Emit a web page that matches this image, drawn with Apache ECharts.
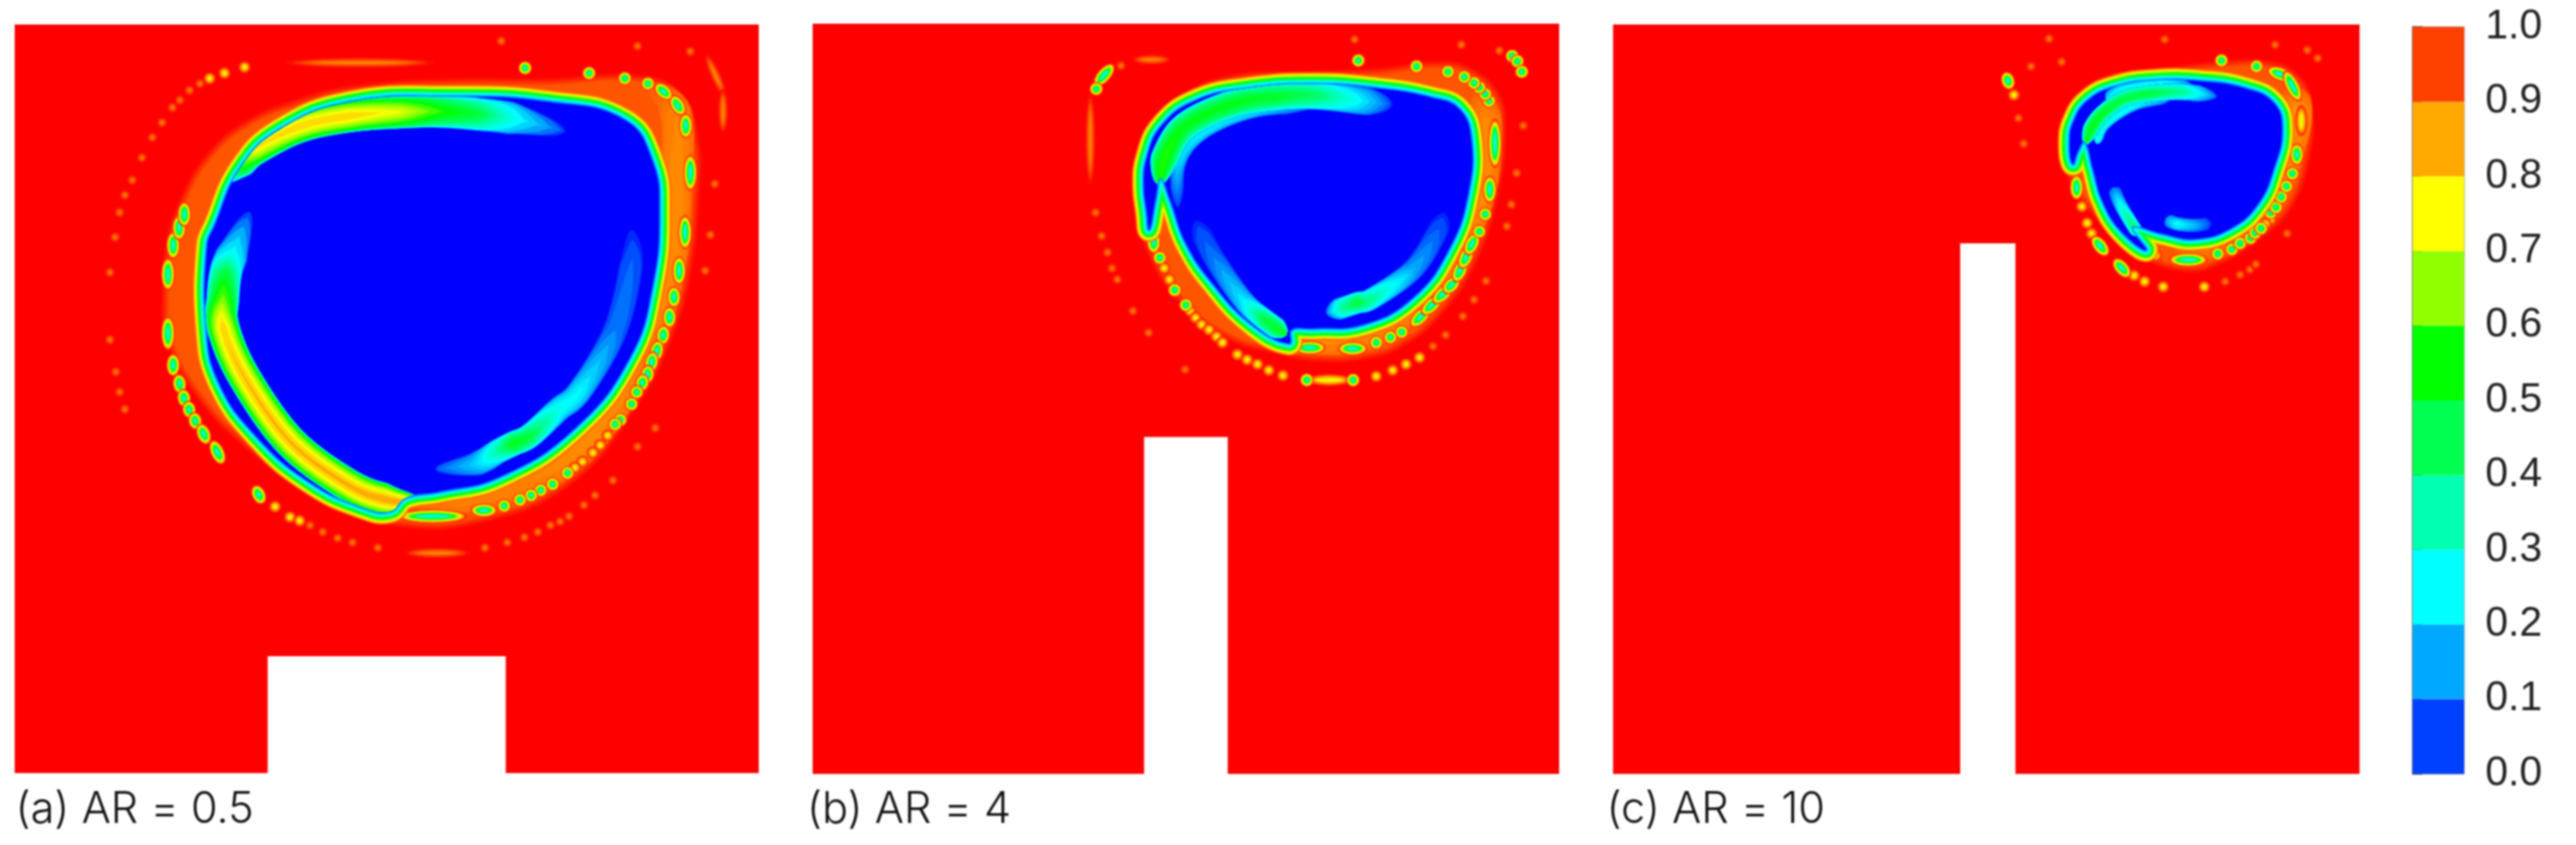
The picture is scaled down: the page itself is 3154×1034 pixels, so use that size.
<!DOCTYPE html>
<html>
<head>
<meta charset="utf-8">
<script src="https://cdn.jsdelivr.net/npm/echarts@6/dist/echarts.min.js"></script>
<style>
  html,body{margin:0;padding:0;background:#fff;}
  #main{width:3154px;height:1034px;filter:blur(0.8px);}
</style>
</head>
<body>
<div id="main"></div>
<script>
// colour bar
var binLows = [0,0.1,0.2,0.3,0.4,0.5,0.6,0.7,0.8,0.9];
var binColors = ['#0040ff','#00a8ff','#00ffff','#00ffb0','#00ff50','#00ff00','#90ff00','#ffff00','#ffa800','#ff4000'];
var titles = ['(a) AR = 0.5','(b) AR = 4','(c) AR = 10'];

// all curves below are in cavity units: x 0-100 left to right, y 0-100 top to bottom
// obstacle: x0,x1,y0,y1
var obstacleA = [34,66,84.4,100];
var obstacleB = [44.4,55.6,55.1,100];
var obstacleC = [46.5,53.9,29.2,100];

// ---- AR = 0.5
var bandA = [[20.7,36.9],[21.2,29.4],[23,23.8],[26.6,17.8],[31.6,13.6],[38.3,10.8],[45.1,9.1],[58.5,8.1],[72,8.1],[83.4,7.6],[88.8,9.6],[91.1,15.8],[91.1,22.8],[90.2,31.9],[87.8,40.9],[82.7,50.9],[74,60.9],[62.5,65.7],[51.8,66.2],[41.7,62.9],[31.6,55.9],[24.9,48.9],[21.2,41.9]];
// x,y,value along the line
var orangeA = [[84.7,7.8,0.93],[88.8,11.8,0.88],[88.8,21.8,0.87],[88.1,31.9,0.87],[84.7,43.4,0.88],[77.3,55.4,0.87],[69.3,60.9,0.88],[60,63.2,0.88],[53,63.9,0.9]];
var coreA = [[25.9,29.5],[25.8,40.4],[27.4,47.7],[32.5,55],[39.8,61.2],[47.1,64.6],[50.5,65],[52.5,63.2],[57,62.4],[65.2,60.4],[75.3,53.9],[82.7,44.4],[85.7,34.9],[86.6,24.8],[85.7,18.3],[82,12.8],[72,10.4],[58.5,9.7],[45.1,10.4],[35.6,14.1],[30.3,19.3],[26.9,26.9]];
var tonguesA = [
  [[26.9,21.3,0.3],[30,18.6,0.65],[32.3,16.6,0.8],[38.3,13.6,0.84],[45.1,12.2,0.84],[51.8,11.7,0.76],[57.2,11.6,0.6],[62.5,12,0.5],[67.2,12.6,0.3],[74,14.3,0.06]],
  [[31.6,25,0.06],[29.3,30.5,0.3],[28.4,33,0.5],[28,36.4,0.65],[28,40.4,0.84],[30.8,47,0.86],[37,55.7,0.87],[44.8,61.5,0.88],[50,63.5,0.9],[55,64,0.9]],
  [[56.5,59.4,0.08],[61.9,58.7,0.22],[65,57,0.4],[67,56,0.55],[69.3,54.9,0.5],[73,51.5,0.3],[76,48.9,0.27],[80.7,40.9,0.13],[82.9,31.9,0.1],[82.9,27.4,0.04]]
];
var strongA = [[20.6,32.1,20.6,34.6],[20.6,39.9,20.6,42.6],[21.3,28.6,21.3,30.4],[21.3,44.9,21.3,46.1],[22.1,26.4,22.1,27.9],[22.1,47.6,22.2,48.4],[22.8,24.6,22.8,26.1],[22.7,49.6,22.8,50.2],[23.4,51.2,23.5,51.7],[24.2,52.7,24.3,53.2],[25.2,54.2,25.6,55.2],[26.9,56.4,27.6,57.9],[32.6,62.4,33,63.2],[90.1,26.4,90.1,29.1],[89.3,31.9,89.3,33.9],[88.6,35.9,88.6,36.9],[88,38.6,88,39.6],[87.2,41.1,87.1,41.9],[86.4,43.1,86.2,44.1],[85.7,44.6,85.5,45.6],[85.1,46.4,85,47.1],[84.4,47.6,84.3,48.1],[83.6,49.1],[82.9,50.7],[81.4,52.8],[80.7,53.4],[74.3,59.9],[72.3,61.4],[70.7,62.2],[69.4,62.9],[67.9,63.5],[65.8,64.3],[62.2,64.9,63.9,64.9],[52.5,65.7,59.9,65.7],[90.8,18.3,90.8,21.3],[90.2,12.8,90.2,14.3],[88.8,10.3,89.4,11.3],[86.8,8.6,87.6,9.3],[85.1,7.9],[82,7.2],[77.2,6.5],[68.6,5.8]];
var midA = [[79.7,54.9],[78.7,56.2],[77.7,57.2],[76.3,58.4],[75.3,59.2],[37,65.8],[35,64.4],[30.9,5.7],[28.2,6.5],[26.2,7.2],[38.3,66.3]];
var weakA = [[37,5.1,55.8,5.1],[24.9,7.9],[23.5,8.8],[22.2,10.1],[21.2,11.1],[19.8,13.1],[18.5,15.1],[17.1,17.8],[15.8,20.8],[14.8,22.8],[14.1,25.1],[13.5,28.4],[12.8,33.1],[12.8,42.1],[13.6,46.4],[14.1,49.1],[14.8,51.4],[83.7,2.9],[90.8,3.6],[93.2,4.6,95.2,9],[95.2,9.3,95.2,13.8],[65.4,2.2],[94.1,21.3],[93.5,28.1],[92.8,32.9],[39.7,66.9],[41.4,67.8],[43.4,68.6],[45.4,69.2],[48.8,69.9],[53.1,70.6,60.5,70.6],[63.2,69.9],[66.2,69.2],[68.5,68.5],[70.3,67.8],[72,66.9],[73.3,66.4],[74.5,65.7],[76.5,64.2],[78,62.9],[80.4,60.9],[83.7,56.4],[86.1,53.9]];

// ---- AR = 4
var bandB = [[44.2,20.5],[45.5,14.6],[49.1,10.7],[56.2,7.7],[66.9,7.2],[75.9,6.8],[84,5.9],[88,6.8],[91.1,9.6],[92,13.6],[91.1,22.3],[88,31.7],[83.5,38.3],[78.6,42.3],[73.7,43.9],[67,44.1],[62.5,43.2],[56.2,41.4],[50,36.8],[45.5,29.9],[44.6,24.5]];
var orangeB = [[88.9,8.5,0.92],[90.2,13.6,0.87],[89.3,22.6,0.87],[85.7,30.6,0.87],[80.4,37.5,0.87],[73.7,41.5,0.88],[66,41.9,0.87],[60,41,0.9]];
var coreB = [[46.6,20.5],[48,23.7],[50,29.2],[53.6,34.6],[58.9,40.1],[63.8,42.6],[64.1,40.8],[67,40.6],[73.7,40.1],[80.4,36.5],[85.3,29.9],[87.8,22.6],[88.2,15.4],[86.6,11.4],[83,9.9],[75.9,8.7],[66.9,8.1],[58,8.7],[51.3,10.3],[46.8,13.6],[44.8,17.9],[44.4,21.6],[44.8,25.2],[45.1,27.4],[45.9,23.4]];
var tonguesB = [
  [[48.9,24.5,0.05],[49.1,18.6,0.22],[52.2,14.6,0.25],[58.9,11.7,0.25],[67,11,0.1]],
  [[46.4,21.5,0.6],[47.3,17.6,0.6],[50,13.6,0.55],[56.2,10.7,0.55],[62.5,9.7,0.52],[67.8,9.6,0.45],[73.7,10.3,0.25],[77.7,10.8,0.05]],
  [[51.3,26.3,0.05],[53.6,31,0.12],[57.6,36.8,0.25],[60.5,39.4,0.5],[63.5,41.5,0.55]],
  [[68.8,38.6,0.1],[70.9,37.9,0.4],[73,37.2,0.5],[75,36.6,0.4],[80.4,32.8,0.18],[83.5,28.1,0.1],[84.6,25.2,0.04]]
];
var strongB = [[39.7,6.1,38.4,7.6],[38,8.7],[45.7,28.5,45.7,29.7],[46.5,31.2],[48.5,35.5],[50,37.5],[65.4,43.2,67.8,43.2],[71.3,43.3,73.4,43.3],[75.5,42.5],[77.4,41.8],[78.9,41.1],[80.8,39.7,82,38.5],[82.3,38.1,83.5,37],[83.8,36.6,85,35.5],[85.2,35.2,85.9,34.5],[86.4,33.6,87,32.3],[87.2,31.8,87.8,30.5],[88,30,88.6,28.8],[89.3,27.7],[90.1,25.4],[90.7,21.2,90.7,23],[91.4,13.6,91.4,18.3],[90.6,10.3],[90.1,9.4],[89.3,8.5],[88.6,7.9],[87.3,7.1],[85.1,6.4],[80.9,5.7],[73.1,4.9],[93.7,4.3],[94.4,5],[95,6.4],[66.2,47.5],[72.4,47.5]];
var midB = [[47.1,32.6],[47.8,34.1],[50.6,38.3],[51.3,39.2],[52.1,40.1],[53.1,40.8],[54.1,41.7],[54.9,42.5],[56.9,44.1],[58.2,44.8],[59.6,45.4],[61.1,46.2],[63,46.9],[67,47.5,71.4,47.5],[75.5,47],[77.7,46.2],[79.5,45.4],[81.3,44.5]];
var weakB = [[72.6,2.1],[86.9,2.8],[92,3.6],[43.5,4.8,47.3,4.8],[41.3,5.6],[37.2,9.9,37.2,20.8],[95.2,13.6],[94.3,19.9],[93.6,24.1],[93,27],[37.9,25.2],[38.7,28.3],[39.5,30.5],[40.1,32.6],[40.8,34.1],[42.9,38.3],[45,41.2],[49.9,46.1],[83.1,43],[84.8,41.5],[87.1,39],[88.6,36.8],[90.2,34.3]];

// ---- AR = 10
var bandC = [[60.8,17],[61.5,12.3],[63.7,9.2],[67.4,7.4],[73.6,6.7],[80.1,5.9],[87.5,5.7],[91.5,7.6],[92.9,11.6],[92.6,17],[90.4,23.6],[86.3,27.9],[80.1,31.6],[76.5,32.1],[72.1,30.8],[68.1,27.9],[64.4,24.3],[61.9,20.6]];
var orangeC = [[90.7,8.3,0.92],[91.5,11.6,0.86],[90.7,15.9,0.87],[87.5,23.6,0.87],[82,28.6,0.88],[74.7,29.4,0.9]];
var coreC = [[63.2,15.6],[64.3,19.2],[65.6,23.6],[68.1,27.6],[71.4,30.1],[69.5,27],[73.6,27.9],[77.9,28.6],[82.7,27.2],[86.4,23.9],[88.5,19.2],[89.6,14.1],[88.5,10.5],[84.5,8.5],[78.7,7.6],[72.8,7.5],[67.4,8.3],[63.7,10.1],[61.7,13],[61.2,15.9],[61.6,18.6],[62.2,17]];
var tonguesC = [
  [[64.8,15.9,0.3],[65.9,13.4,0.3],[69.9,10.8,0.28],[74.7,9.9,0.15]],
  [[66,10,0.2],[68.4,8.8,0.3],[73.6,8.1,0.32],[77.6,8.3,0.15]],
  [[63.2,16,0.55],[64.8,12.7,0.55],[68.1,10.1,0.5],[72.1,9.2,0.5],[76.5,9,0.4],[80.9,9.6,0.08]],
  [[67,21.7,0.1],[68.1,24.3,0.3],[70.5,28.2,0.55]],
  [[74,25.9,0.12],[75.5,26.6,0.28],[78,26.8,0.18],[80.1,26.5,0.05]]
];
var strongC = [[52.8,7.2,53,7.8],[62.1,21,62.1,22.5],[64.8,29,65.7,30.1],[67.7,32,68.6,33],[75.4,31.4,78.7,31.4],[81,30.6],[82.9,30],[84,29.2],[85.4,28.5],[86,27.8],[86.8,27.2],[88.1,25.1],[88.8,24.4],[89.5,23],[90.2,21.6],[91,19.9],[91.6,16.8,91.6,17.9],[88.5,6.3,90.4,7],[90.4,7,91.6,9.4],[86.2,5.6],[81.5,4.8]];
var midC = [[92.2,11.6,92.2,14.1],[53.7,9.4],[63.5,26.5],[64.1,27.9],[62.8,24.3],[69.8,33.5],[71.2,34.3],[73.7,35],[72.7,30.8],[79.2,35],[88.1,26],[87.4,26.6]];
var weakC = [[73.9,2],[88.7,2.7],[93,3.4],[94.4,4.5],[60.1,5],[56,5.6],[54.3,12.5],[55,15.9],[58.4,1.9],[82,34.3],[84,33.4],[85.3,32.7],[86.1,32],[90.3,27.9]];

// ---- drawing, widths are in screen px
var tongueWidthsA = [20,20,15];
var tongueWidthsB = [8,17,13,13];
var tongueWidthsC = [6,8,10,8,8];

var grids = [
  {left:18,top:30,width:911,height:916},
  {left:995,top:29,width:914,height:918},
  {left:1975,top:30,width:914,height:917}
];

function hex2rgb(h){
  return [parseInt(h.substr(1,2),16),parseInt(h.substr(3,2),16),parseInt(h.substr(5,2),16)];
}
// continuous rainbow through the colour bar bins
var stops = [[0,'#0000ff']];
binLows.forEach(function(v,i){stops.push([v+0.05,binColors[i]]);});
stops.push([1,'#ff0000']);
function ramp(v){
  v = Math.max(0,Math.min(1,v));
  for(var i=1;i<stops.length;i++){
    if(v<=stops[i][0]){
      var t=(v-stops[i-1][0])/(stops[i][0]-stops[i-1][0]);
      var a=hex2rgb(stops[i-1][1]),b=hex2rgb(stops[i][1]);
      return 'rgb('+Math.round(a[0]+(b[0]-a[0])*t)+','+Math.round(a[1]+(b[1]-a[1])*t)+','+Math.round(a[2]+(b[2]-a[2])*t)+')';
    }
  }
  return '#ff0000';
}

function filled(layers,pts,from,to,width,n,fillV){
  for(var i=0;i<n;i++){
    var t=i/(n-1);
    layers.push({kind:'rim',pts:pts,color:ramp(from+(to-from)*t),width:Math.max(1.5,width*(1-t*0.9))});
  }
  layers.push({kind:'fill',pts:pts,color:ramp(fillV)});
}
function islands(layers,list,base,peak,width,n){
  list.forEach(function(s){
    var pts = s.length==2 ? [[s[0],s[1]],[s[0],s[1]]] : [[s[0],s[1]],[s[2],s[3]]];
    for(var i=0;i<n;i++){
      var t=i/(n-1);
      layers.push({kind:'island',pts:pts,color:ramp(base+(peak-base)*t),ry:width/2*(1-t*0.85),shrink:1-t*0.45});
    }
  });
}
// a tongue: layered ribbons, one per value level, narrowing where the value along the line falls
function ribbon(layers,pts,base,width,n,clip){
  var top=base;
  pts.forEach(function(p){ if(Math.abs(p[2]-base)>Math.abs(top-base)) top=p[2]; });
  for(var i=1;i<=n;i++){
    var level=base+(top-base)*i/(n+1);
    layers.push({kind:'ribbon',pts:pts,base:base,level:level,width:width,color:ramp(level),clip:clip});
  }
}

function buildPanel(band,orange,core,tongues,widths,strong,mid,weak){
  var layers=[];
  islands(layers,weak,0.99,0.88,13,5);
  filled(layers,band,0.99,0.94,18,5,0.93);
  ribbon(layers,orange,0.93,20,5,null);
  islands(layers,mid,0.97,0.72,15,6);
  islands(layers,strong,0.97,0.27,17,9);
  filled(layers,core,0.92,0.1,30,12,0);
  tongues.forEach(function(t,i){
    ribbon(layers,t,0,widths[i],16,core);
  });
  return layers;
}

// sample a line through the points, carrying the third column along
function sampleLine(p,vals){
  var out=[],sub=10;
  for(var i=0;i<p.length-1;i++){
    var p0=p[Math.max(0,i-1)],p1=p[i],p2=p[i+1],p3=p[Math.min(p.length-1,i+2)];
    for(var j=0;j<sub;j++){
      var t=j/sub,t2=t*t,t3=t2*t;
      out.push([
        0.5*(2*p1[0]+(p2[0]-p0[0])*t+(2*p0[0]-5*p1[0]+4*p2[0]-p3[0])*t2+(3*p1[0]-p0[0]-3*p2[0]+p3[0])*t3),
        0.5*(2*p1[1]+(p2[1]-p0[1])*t+(2*p0[1]-5*p1[1]+4*p2[1]-p3[1])*t2+(3*p1[1]-p0[1]-3*p2[1]+p3[1])*t3),
        vals[i]+(vals[i+1]-vals[i])*t
      ]);
    }
  }
  var n=p.length-1;
  out.push([p[n][0],p[n][1],vals[n]]);
  return out;
}
function ribbonPoints(l,api){
  var scr=l.pts.map(function(q){return api.coord([q[0],q[1]]);});
  var line=sampleLine(scr,l.pts.map(function(q){return q[2];}));
  var left=[],right=[],last=line.length-1;
  line.forEach(function(s,i){
    var a=line[Math.max(0,i-1)],b=line[Math.min(last,i+1)];
    var dx=b[0]-a[0],dy=b[1]-a[1],d=Math.sqrt(dx*dx+dy*dy)||1;
    var t=(l.level-l.base)/(s[2]-l.base);
    var taper=Math.pow(Math.min(1,i/last/0.12,(last-i)/last/0.12),0.6);
    var h=(t<0||t>1)?0:l.width*taper*(1-Math.pow(t,4));
    left.push([s[0]-dy/d*h,s[1]+dx/d*h]);
    right.push([s[0]+dy/d*h,s[1]-dx/d*h]);
  });
  return left.concat(right.reverse());
}

var panels = [
  {layers:buildPanel(bandA,orangeA,coreA,tonguesA,tongueWidthsA,strongA,midA,weakA),obstacle:obstacleA},
  {layers:buildPanel(bandB,orangeB,coreB,tonguesB,tongueWidthsB,strongB,midB,weakB),obstacle:obstacleB},
  {layers:buildPanel(bandC,orangeC,coreC,tonguesC,tongueWidthsC,strongC,midC,weakC),obstacle:obstacleC}
];

var series=[],gridOpt=[],xAxes=[],yAxes=[];
panels.forEach(function(p,k){
  gridOpt.push({left:grids[k].left,top:grids[k].top,width:grids[k].width,height:grids[k].height,show:true,backgroundColor:'#ff0000',borderWidth:0});
  xAxes.push({gridIndex:k,type:'value',min:0,max:100,show:false});
  yAxes.push({gridIndex:k,type:'value',min:0,max:100,inverse:true,show:false});
  series.push({
    type:'custom',coordinateSystem:'cartesian2d',xAxisIndex:k,yAxisIndex:k,silent:true,clip:true,
    data:p.layers.map(function(l){return [l.pts[0][0],l.pts[0][1]];}),
    renderItem:function(params,api){
      var l=p.layers[params.dataIndex];
      var points=l.pts.map(function(q){return api.coord([q[0],q[1]]);});
      if(l.kind=='island'){
        var dx=points[1][0]-points[0][0],dy=points[1][1]-points[0][1];
        var half=Math.sqrt(dx*dx+dy*dy)/2;
        return {type:'ellipse',x:(points[0][0]+points[1][0])/2,y:(points[0][1]+points[1][1])/2,rotation:-Math.atan2(dy,dx),
          shape:{cx:0,cy:0,rx:l.ry+half*l.shrink,ry:l.ry},style:{fill:l.color}};
      }
      if(l.kind=='ribbon'){
        var el={type:'polygon',shape:{points:ribbonPoints(l,api)},style:{fill:l.color}};
        if(l.clip){
          el.clipPath={type:'polygon',shape:{points:l.clip.map(function(q){return api.coord(q);}),smooth:0.45}};
        }
        return el;
      }
      if(l.kind=='fill'){
        return {type:'polygon',shape:{points:points,smooth:0.45},style:{fill:l.color}};
      }
      return {type:'polygon',shape:{points:points,smooth:0.45},style:{fill:null,stroke:l.color,lineWidth:l.width,lineJoin:'round'}};
    }
  });
  series.push({
    type:'custom',coordinateSystem:'cartesian2d',xAxisIndex:k,yAxisIndex:k,silent:true,
    data:[p.obstacle],
    renderItem:function(params,api){
      var a=api.coord([api.value(0),api.value(2)]),b=api.coord([api.value(1),api.value(3)]);
      return {type:'rect',shape:{x:a[0],y:a[1],width:b[0]-a[0],height:b[1]-a[1]},style:{fill:'#ffffff'}};
    }
  });
});

// colour bar
gridOpt.push({left:2954,top:33,width:63,height:914,show:true,borderColor:'#777',borderWidth:1,backgroundColor:'#fff'});
xAxes.push({gridIndex:3,type:'value',min:0,max:1,show:false});
yAxes.push({gridIndex:3,type:'value',min:0,max:1,interval:0.1,position:'right',
  axisLine:{show:true,lineStyle:{color:'#777',width:2}},
  axisTick:{show:true,length:12,lineStyle:{color:'#555',width:2}},
  splitLine:{show:false},
  axisLabel:{show:true,margin:26,color:'#222',fontFamily:'Liberation Sans',fontSize:50,formatter:function(v){return v.toFixed(1);}}
});
series.push({
  type:'custom',coordinateSystem:'cartesian2d',xAxisIndex:3,yAxisIndex:3,silent:true,
  data:binLows.map(function(v){return [0,v];}),
  renderItem:function(params,api){
    var a=api.coord([0,api.value(1)+0.1]),b=api.coord([1,api.value(1)]);
    return {type:'rect',shape:{x:a[0],y:a[1],width:b[0]-a[0],height:b[1]-a[1]},style:{fill:binColors[params.dataIndex]}};
  }
});

var chart=echarts.init(document.getElementById('main'),null,{renderer:'canvas'});
chart.setOption({
  animation:false,
  backgroundColor:'#fff',
  title:titles.map(function(t,i){
    return {text:t,left:[14,983,1962][i],top:960,textStyle:{fontFamily:'Inter',fontWeight:300,fontSize:53,color:'#111'}};
  }),
  grid:gridOpt,xAxis:xAxes,yAxis:yAxes,series:series
});
</script>
</body>
</html>
